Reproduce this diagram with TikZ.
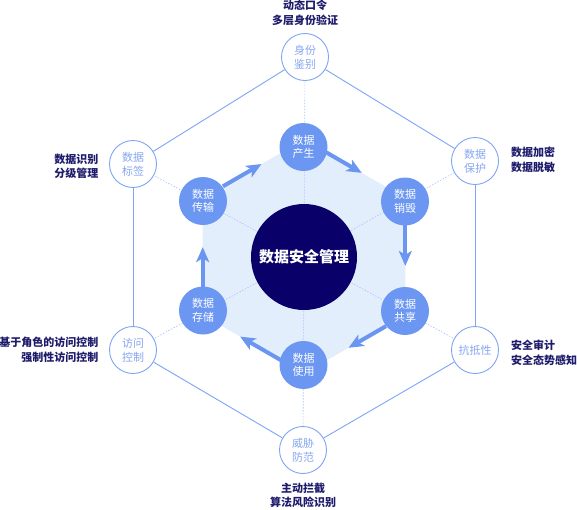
\documentclass[tikz,border=0pt]{standalone}
\usepackage{fontspec}
\newfontfamily\cjk{Noto Sans CJK SC}
\usetikzlibrary{arrows.meta,calc}
\definecolor{innerblue}{HTML}{6B97F2}
\definecolor{arrowblue}{HTML}{6A95F0}
\definecolor{hexfill}{HTML}{E3EEFD}
\definecolor{centernavy}{HTML}{0A006A}
\definecolor{lineblue}{HTML}{7EA5F5}
\definecolor{outertext}{HTML}{86A7F0}
\definecolor{spokeblue}{HTML}{A8C4F7}
\definecolor{labnavy}{HTML}{1E1B6B}
\begin{document}
\begin{tikzpicture}[x=1pt,y=-1pt,
  innernode/.style={circle, fill=innerblue, text=white, minimum size=48pt, inner sep=0pt,
    font=\cjk\fontsize{11pt}{13.5pt}\selectfont, align=center},
  outernode/.style={circle, draw=lineblue, line width=0.9pt, fill=white, text=outertext,
    minimum size=47pt, inner sep=0pt, font=\cjk\fontsize{11pt}{14pt}\selectfont, align=center},
  lab/.style={text=labnavy, font=\cjk\bfseries\fontsize{11pt}{14.5pt}\selectfont, inner sep=0pt},
  flow/.style={line width=4pt, draw=arrowblue, -{Stealth[length=15pt,width=13pt,inset=4pt]}},
  spoke/.style={draw=spokeblue, line width=0.6pt, dash pattern=on 1.5pt off 1.5pt},
  rim/.style={draw=lineblue, line width=0.9pt}]
\useasboundingbox (0,0) rectangle (577,509);

% light hexagon vertices
\coordinate (h1) at (304,139.5);
\coordinate (h2) at (405.3,198);
\coordinate (h3) at (405.3,315);
\coordinate (h4) at (304,373.5);
\coordinate (h5) at (202.7,315);
\coordinate (h6) at (202.7,198);
\fill[hexfill] (h1)--(h2)--(h3)--(h4)--(h5)--(h6)--cycle;

% center and outer positions
\coordinate (c) at (304,257);
\coordinate (q1) at (305,57);
\coordinate (q2) at (475,161);
\coordinate (q3) at (475,350);
\coordinate (q4) at (303,450);
\coordinate (q5) at (133,350);
\coordinate (q6) at (133,164);

% spokes
\foreach \i in {1,...,6} \draw[spoke] (c) -- (q\i);

% outer circles
\node[outernode] (o1) at (q1) {身份\\鉴别};
\node[outernode] (o2) at (q2) {数据\\保护};
\node[outernode] (o3) at (q3) {抗抵性};
\node[outernode] (o4) at (q4) {威胁\\防范};
\node[outernode] (o5) at (q5) {访问\\控制};
\node[outernode] (o6) at (q6) {数据\\标签};

\draw[rim] (o1) -- (o2);
\draw[rim] (o2) -- (o3);
\draw[rim] (o3) -- (o4);
\draw[rim] (o4) -- (o5);
\draw[rim] (o5) -- (o6);
\draw[rim] (o6) -- (o1);

% center
\node[circle, fill=centernavy, minimum size=106pt, inner sep=0pt, text=white,
  font=\cjk\bfseries\fontsize{15pt}{18pt}\selectfont] (core) at (c) {数据安全管理};

% arrows along hexagon edges
\draw[flow] ($(h1)!0.22!(h2)$) -- ($(h1)!0.57!(h2)$);
\draw[flow] ($(h2)!0.22!(h3)$) -- ($(h2)!0.58!(h3)$);
\draw[flow] ($(h3)!0.19!(h4)$) -- ($(h3)!0.56!(h4)$);
\draw[flow] ($(h4)!0.23!(h5)$) -- ($(h4)!0.63!(h5)$);
\draw[flow] ($(h5)!0.24!(h6)$) -- ($(h5)!0.58!(h6)$);
\draw[flow] ($(h6)!0.20!(h1)$) -- ($(h6)!0.58!(h1)$);

% inner circles
\node[innernode] (p1) at (303.5,147) {数据\\产生};
\node[innernode] (p2) at (405,201.5) {数据\\销毁};
\node[innernode] (p3) at (405,311) {数据\\共享};
\node[innernode] (p4) at (303.5,365) {数据\\使用};
\node[innernode] (p5) at (203,310.5) {数据\\存储};
\node[innernode] (p6) at (203,201) {数据\\传输};

% labels
\node[lab, align=center] (t1) at (305,13) {动态口令\\多层身份验证};
\node[lab, align=center] (t4) at (303,495.5) {主动拦截\\算法风险识别};
\node[lab, align=right, anchor=east] (t6) at (98.5,166.3) {数据识别\\分级管理};
\node[lab, align=right, anchor=east] (t5) at (98.5,349.7) {基于角色的访问控制\\强制性访问控制};
\node[lab, align=left, anchor=west] (t2) at (511,159.8) {数据加密\\数据脱敏};
\node[lab, align=left, anchor=west] (t3) at (511,353) {安全审计\\安全态势感知};
\end{tikzpicture}
\end{document}
